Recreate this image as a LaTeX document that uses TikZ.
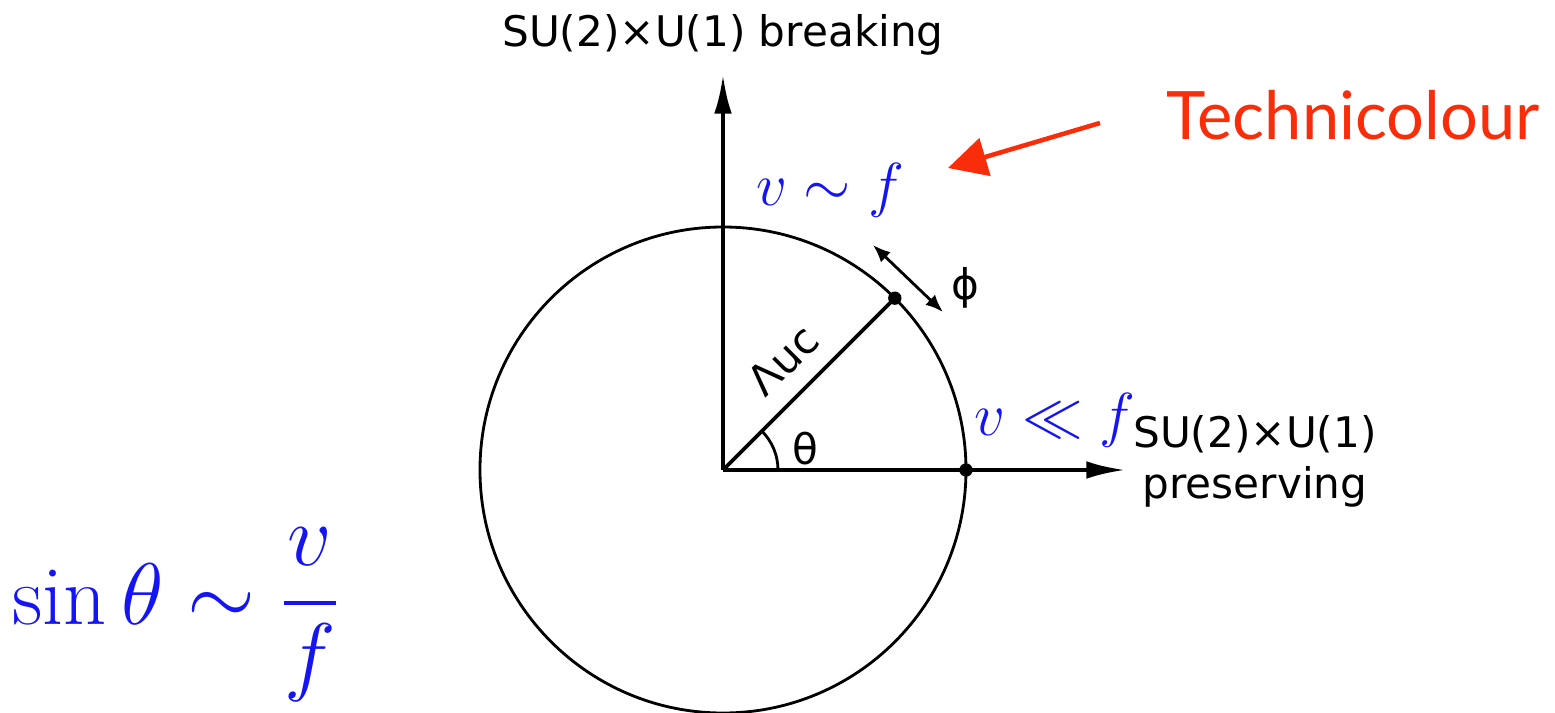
\documentclass[tikz,border=0pt]{standalone}
\usepackage{fontspec}
\usepackage{amssymb}
\newfontfamily\lblfont{DejaVu Sans}
\newfontfamily\notefont{Lato}
\usetikzlibrary{positioning,arrows.meta,calc}
\definecolor{mathblue}{RGB}{20,20,245}
\definecolor{notered}{RGB}{250,45,10}
\tikzset{
  axis/.style={line width=1.1pt,-{Latex[length=11pt,width=5pt]}},
  lbl/.style={font=\lblfont\fontsize{12}{14.5}\selectfont,align=center,inner sep=1pt},
  blu/.style={text=mathblue,inner sep=1pt},
  dotpt/.style={circle,fill=black,inner sep=0pt,minimum size=3.8pt},
}
\begin{document}
\begin{tikzpicture}[line width=0.8pt]
  \useasboundingbox (-7.23,-2.42) rectangle (8.32,4.70);
  \coordinate (O) at (0,0);
  \coordinate (ytip) at (0,3.95);
  \coordinate (xtip) at (4.02,0);
  \draw (O) circle (2.43);
  \draw[axis] (O) -- (ytip);
  \draw[axis] (O) -- (xtip);
  \node[dotpt] (P) at (45:2.43) {};
  \node[dotpt] (Q) at (0:2.43) {};
  \draw[line width=1.1pt] (O) -- (P.center);
  \draw (0.55,0) arc (0:45:0.55);
  \node[lbl] (th) at (0.82,0.21) {θ};
  \node[lbl,rotate=45,inner sep=0pt] (lam) at (0.60,1.10) {Λuc};
  % fluctuation along the vacuum circle
  \coordinate (phA) at (1.50,2.25);
  \coordinate (phB) at (2.20,1.58);
  \draw[{Latex[length=5pt,width=4pt]}-{Latex[length=5pt,width=4pt]}] (phA) -- (phB);
  \node[lbl] (phi) at (2.42,1.82) {ϕ};
  \node[lbl] (brk) at (0,4.35) {SU(2)×U(1) breaking};
  \node[lbl] (pres) at (5.32,0.09) {SU(2)×U(1)\\preserving};
  \node[blu,font=\fontsize{18}{20}\selectfont] (vf) at (1.07,2.80) {$v\sim f$};
  \node[blu,font=\fontsize{18}{20}\selectfont] (vll) at (3.32,0.50) {$v\ll f$};
  \node[blu,font=\fontsize{24}{29}\selectfont] (sinth) at (-5.47,-1.45) {$\displaystyle\sin\theta\sim\frac{v}{f}$};
  \node[text=notered,font=\notefont\fontsize{19}{23}\selectfont,inner sep=0pt] (tc) at (6.30,3.55) {Technicolour};
  \coordinate (tcA) at (3.77,3.47);
  \coordinate (tcB) at (2.25,3.02);
  \draw[notered,line width=1.3pt,-{Triangle[length=11pt,width=11pt]}] (tcA) -- (tcB);
\end{tikzpicture}
\end{document}
